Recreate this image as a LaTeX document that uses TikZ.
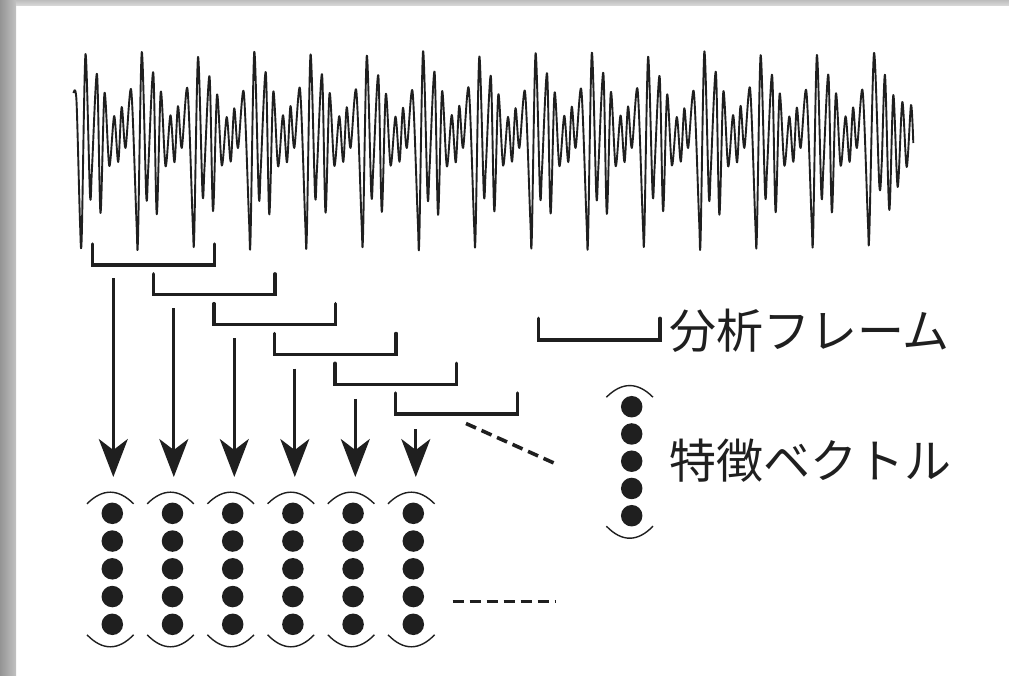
\documentclass[tikz,border=0pt]{standalone}
\usepackage{fontspec}
\newfontfamily\jpfont{Noto Sans CJK JP}
\usetikzlibrary{arrows.meta}
\newcommand\featvec[4]{%
  \foreach \j in {0,...,4}{\node[dotstyle] (#4-\j) at (#1, #2+\j*#3) {};}
  \draw[arcline] (#1-25.3, #2-9.5) .. controls (#1-9.8, #2-25) and (#1+5.8, #2-25) .. (#1+21.3, #2-9.5);
  \draw[arcline] (#1-25.3, #2+4*#3+10.5) .. controls (#1-9.8, #2+4*#3+26.5) and (#1+5.8, #2+4*#3+26.5) .. (#1+21.3, #2+4*#3+10.5);
}
\def\drawwaveplot{\draw[wave] plot[smooth,tension=0.5] coordinates}
\begin{document}
\begin{tikzpicture}[x=1pt,y=-1pt,
  wave/.style={line width=1.9pt, line join=round, color=black!88},
  framebr/.style={line width=3.3pt, line cap=round, line join=miter, color=black!88},
  downarrow/.style={line width=3pt, color=black!88, -{Stealth[length=38pt,width=29pt,inset=11pt]}},
  dashline/.style={line width=3.6pt, color=black!88, dash pattern=on 11pt off 6pt},
  dotstyle/.style={circle, fill=black!88, inner sep=0pt, minimum size=21.5pt},
  arcline/.style={line width=1.4pt, color=black!88},
  lbl/.style={font=\jpfont\fontsize{47}{50}\selectfont, anchor=west, inner sep=0pt, text=black!88}]
\useasboundingbox (0,0) rectangle (1009,675);
\fill[white] (0,0) rectangle (1009,675);
\shade[left color=black!42, right color=black!24] (0,0) rectangle (16,675);
\shade[top color=black!26, bottom color=black!16] (16,0) rectangle (1009,5);

% waveform
\xdef\wavepts{(73.5,93) (76.5,101) (80,222)}
\foreach \k in {0,...,13}{
  \foreach \t/\y in {0/238,3.8/54,8.3/195,10.3/168,15.3/74,18.8/213,22.8/93,27.6/166,32.5/116,36.5/162,40/107,43.8/148,49.5/90,54.8/222}{
    \pgfmathsetmacro\xx{81.7+56.26*\k+\t}
    \pgfmathsetmacro\yy{150+(\y-150)*(1+0.03*sin(\k*137))}
    \xdef\wavepts{\wavepts (\xx,\yy)}
  }
}
\xdef\wavepts{\wavepts (869.3,234) (874,53) (879.3,185) (881.7,164) (885,75) (889.3,210) (893.3,95) (897.7,187) (902.3,102) (906.7,167) (911,105) (913.3,143)}
\expandafter\drawwaveplot\expandafter{\wavepts};

% analysis frames
\foreach \i in {0,...,5}{
  \pgfmathsetmacro\bl{92.7+60.6*\i}
  \pgfmathsetmacro\bt{244+29.8*\i}
  \draw[framebr] (\bl,\bt) -- (\bl,\bt+21) -- (\bl+121.6,\bt+21) -- (\bl+121.6,\bt);
}

% arrows
\foreach \i in {0,...,5}{
  \pgfmathsetmacro\ax{113.3+60.5*\i}
  \pgfmathsetmacro\ay{278+30.2*\i}
  \coordinate (as\i) at (\ax,\ay);
  \coordinate (ae\i) at (\ax,477);
  \draw[downarrow] (as\i) -- (ae\i);
}

% feature vectors
\foreach \i in {0,...,5}{
  \pgfmathsetmacro\cx{112.3+60.2*\i}
  \featvec{\cx}{513.3}{27.75}{v\i}
}

% dashed continuation lines
\coordinate (d1s) at (466,423.5);
\coordinate (d1e) at (555,463.5);
\draw[dashline] (d1s) -- (d1e);
\coordinate (d2s) at (452.7,601.5);
\coordinate (d2e) at (555,601.5);
\draw[dashline] (d2s) -- (d2e);

% legend
\draw[framebr] (538.3,318.3) -- (538.3,340) -- (660,340) -- (660,318.3);
\node[lbl] (lab1) at (669,331) {分析フレーム};
\featvec{631.7}{406.7}{27.25}{lv}
\node[lbl] (lab2) at (669,461) {特徴ベクトル};
\end{tikzpicture}
\end{document}
